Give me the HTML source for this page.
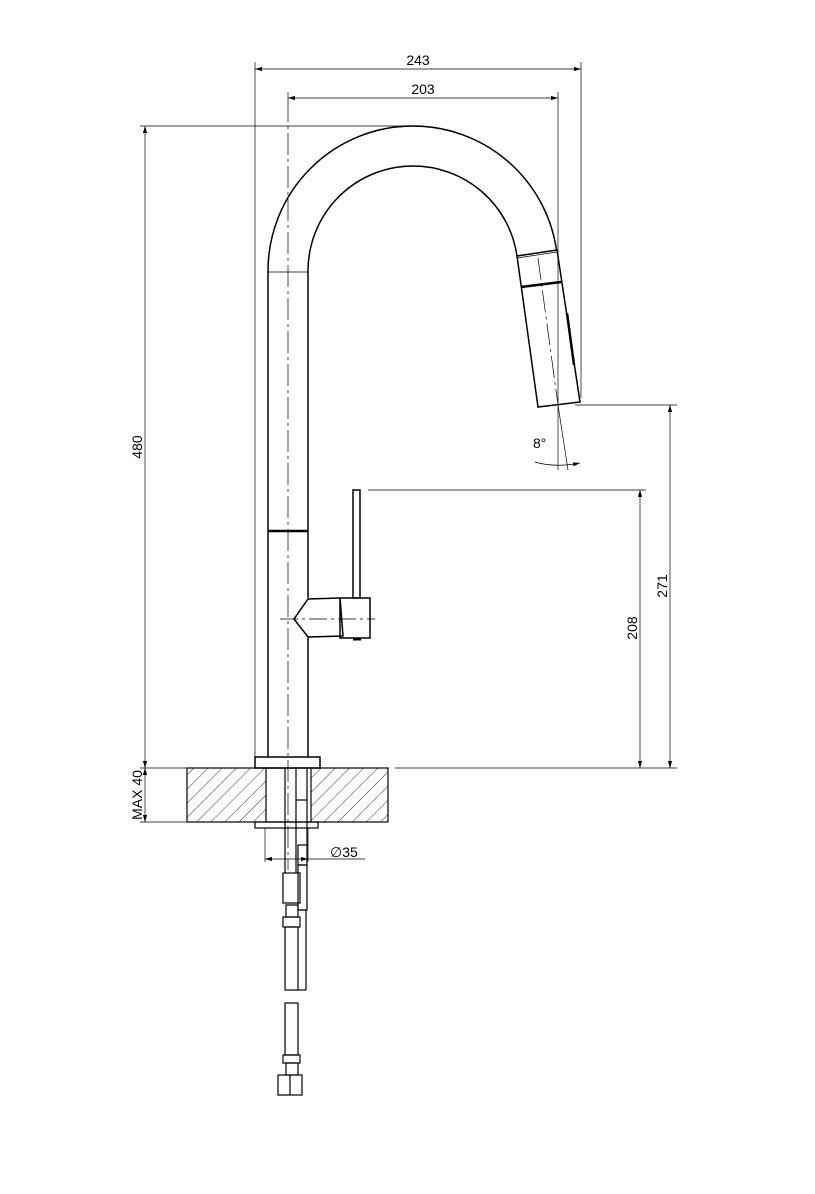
<!DOCTYPE html>
<html><head><style>body{margin:0;background:#fff}svg{display:block}</style></head><body>
<svg width="815" height="1194" viewBox="0 0 815 1194" xmlns="http://www.w3.org/2000/svg" font-family="Liberation Sans, sans-serif">
<defs>
<pattern id="h" width="10" height="10" patternUnits="userSpaceOnUse" patternTransform="rotate(45)">
<line x1="0" y1="0" x2="0" y2="10" stroke="#000" stroke-width="0.8"/></pattern>
<marker id="a" viewBox="0 0 10 6" refX="10" refY="3" markerWidth="10" markerHeight="6" orient="auto-start-reverse"><path d="M0,0L10,3L0,6z" fill="#000"/></marker>
</defs>
<g stroke="#000" fill="none" stroke-width="0.7">
<line x1="255" y1="62" x2="255" y2="757"/>
<line x1="581" y1="62" x2="581" y2="398"/>
<line x1="558" y1="92" x2="558" y2="470"/>
<line x1="288" y1="92" x2="288" y2="100"/>
<line x1="140" y1="126" x2="415" y2="126"/>
<line x1="575" y1="405" x2="677" y2="405"/>
<line x1="368" y1="490" x2="646" y2="490"/>
<line x1="395" y1="768" x2="677" y2="768"/>
<line x1="140" y1="768" x2="187" y2="768"/>
<line x1="140" y1="822" x2="187" y2="822"/>
<line x1="255" y1="69" x2="581" y2="69" marker-start="url(#a)" marker-end="url(#a)"/>
<line x1="288" y1="98" x2="558" y2="98" marker-start="url(#a)" marker-end="url(#a)"/>
<line x1="145" y1="126" x2="145" y2="768" marker-start="url(#a)" marker-end="url(#a)"/>
<line x1="145" y1="768" x2="145" y2="822" marker-start="url(#a)" marker-end="url(#a)"/>
<line x1="670" y1="405" x2="670" y2="768" marker-start="url(#a)" marker-end="url(#a)"/>
<line x1="640" y1="490" x2="640" y2="768" marker-start="url(#a)" marker-end="url(#a)"/>
<line x1="265" y1="859" x2="308" y2="859" marker-start="url(#a)" marker-end="url(#a)"/>
<line x1="308" y1="859" x2="365" y2="859"/>
<line x1="265" y1="828" x2="265" y2="862"/>
<line x1="308" y1="828" x2="308" y2="862"/>
<line x1="558" y1="405" x2="568" y2="470"/>
<path d="M535,462 Q555,468 580,463" marker-end="url(#a)"/>
<line x1="288" y1="100" x2="288" y2="870" stroke-dasharray="22,4,3,4"/>
<line x1="538" y1="258" x2="558" y2="405" stroke-dasharray="22,4,3,4"/>
<line x1="280" y1="619" x2="375" y2="619" stroke-dasharray="18,4,3,4"/>
</g>
<g stroke="#000" fill="none" stroke-width="1.5">
<path d="M268,757 L268,271 A145,145 0 0 1 413,126 A145,145 0 0 1 556.5,250"/>
<path d="M308,598 L308,271 A105,105 0 0 1 413,166 A105,105 0 0 1 517,256"/>
<line x1="308" y1="637" x2="308" y2="757"/>
<line x1="268" y1="531" x2="308" y2="531" stroke-width="2.5"/>
<line x1="268" y1="272" x2="308" y2="272" stroke-width="0.7"/>
<path d="M517,256 L538,407 L580,402 L557,250 Z"/>
<line x1="517" y1="258" x2="557" y2="252" stroke-width="0.7"/>
<line x1="521" y1="287" x2="561" y2="282" stroke-width="2.5"/>
<line x1="567" y1="313" x2="574" y2="365" stroke-width="2.5"/>
<rect x="353" y="490" width="7" height="108"/>
<path d="M308,599 L340,598 L343,636 L308,637 L294,619 Z"/>
<rect x="340" y="598" width="30" height="40"/>
<line x1="353" y1="639" x2="361" y2="639" stroke-width="3"/>
<rect x="255" y="757" width="65" height="11"/>
</g>
<rect x="187" y="768" width="79" height="54" fill="url(#h)" stroke="#000" stroke-width="1.2"/>
<rect x="311" y="768" width="77" height="54" fill="url(#h)" stroke="#000" stroke-width="1.2"/>
<g stroke="#000" fill="none" stroke-width="1.2">
<line x1="266" y1="768" x2="311" y2="768"/>
<line x1="266" y1="822" x2="311" y2="822"/>
<rect x="255" y="822" width="63" height="6"/>
<line x1="285" y1="768" x2="285" y2="873"/>
<line x1="296" y1="768" x2="296" y2="873"/>
<line x1="307" y1="768" x2="307" y2="845"/>
<line x1="296" y1="800" x2="307" y2="800"/>
<rect x="298" y="845" width="9" height="20"/>
<rect x="283" y="873" width="17" height="30"/>
<rect x="298" y="865" width="9" height="45"/>
<rect x="286" y="905" width="12" height="12"/>
<rect x="283" y="917" width="17" height="10"/>
<rect x="285" y="927" width="13" height="63"/>
<line x1="298" y1="910" x2="306" y2="910"/>
<line x1="306" y1="910" x2="306" y2="990"/>
<line x1="298" y1="990" x2="306" y2="990"/>
<rect x="285" y="1003" width="13" height="52"/>
<rect x="283" y="1055" width="17" height="8"/>
<rect x="286" y="1063" width="12" height="12"/>
<rect x="278" y="1075" width="24" height="20"/>
<line x1="290" y1="1075" x2="290" y2="1095"/>
</g>
<g font-size="14" fill="#000">
<text x="418" y="65" text-anchor="middle">243</text>
<text x="423" y="94" text-anchor="middle">203</text>
<text x="142" y="447" text-anchor="middle" transform="rotate(-90 142 447)">480</text>
<text x="142" y="795" text-anchor="middle" transform="rotate(-90 142 795)">MAX 40</text>
<text x="667" y="586" text-anchor="middle" transform="rotate(-90 667 586)">271</text>
<text x="637" y="628" text-anchor="middle" transform="rotate(-90 637 628)">208</text>
<text x="330" y="857">∅35</text>
<text x="533" y="448">8°</text>
</g>
</svg>
</body></html>
